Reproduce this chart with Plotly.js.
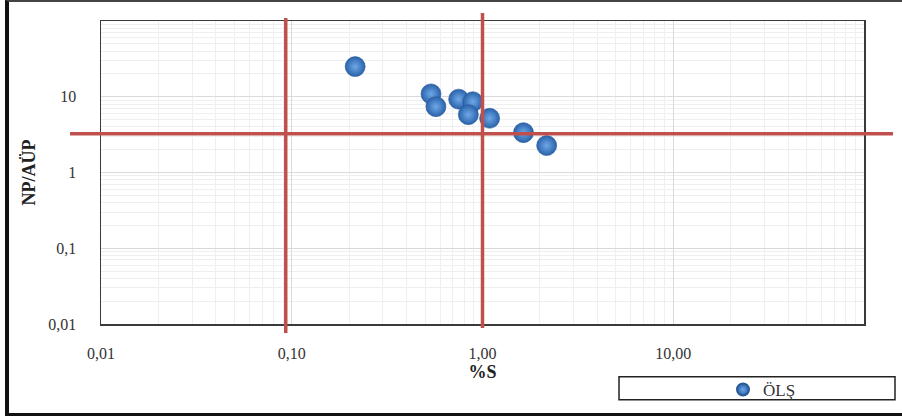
<!DOCTYPE html>
<html>
<head>
<meta charset="utf-8">
<script src="https://cdn.plot.ly/plotly-3.0.1.min.js"></script>
<style>
  html, body { margin: 0; padding: 0; background: #fff; }
  #wrap { position: relative; width: 902px; height: 419px; }
  #chart { width: 902px; height: 419px; }
  #frame { position: absolute; left: 5px; top: 0; width: 897px; height: 416px; box-sizing: border-box;
           border-left: 4px solid #111; border-top: 2px solid #444; border-bottom: 3px solid #111; pointer-events: none; }
</style>
</head>
<body>
<div id="wrap">
  <div id="chart"></div>
  <div id="frame"></div>
</div>
<script>
// Data
const seriesName = "ÖLŞ";
const percentS = [0.215, 0.537, 0.570, 0.750, 0.889, 0.843, 1.09, 1.64, 2.17];
const npAup    = [25.0, 10.9, 7.4, 9.3, 8.6, 5.8, 5.2, 3.36, 2.27];

const xTickVals = [0.01, 0.1, 1, 10];
const xTickText = ["0,01", "0,10", "1,00", "10,00"];
const yTickVals = [0.01, 0.1, 1, 10];
const yTickText = ["0,01", "0,1", "1", "10"];

const refX = [0.093, 1.0];  // vertical reference lines (%S)
const refY = [3.25];        // horizontal reference line (NP/AÜP)

// minor gridline positions (2..9 within each decade)
const minorVals = [];
[0.01, 0.1, 1, 10].forEach(d => { for (let k = 2; k <= 9; k++) minorVals.push(d * k); });

const serif = "'Liberation Serif', 'Times New Roman', serif";
const red = "#c0504d";

const trace = {
  type: "scatter",
  mode: "markers",
  name: seriesName,
  x: percentS,
  y: npAup,
  marker: {
    size: 20,
    color: "#2a62aa",
    gradient: { type: "radial", color: "#6fa8e8" },
    line: { color: "#2a5a96", width: 0.6 }
  },
  cliponaxis: false
};

const shapes = [];
// legend frame
shapes.push({ type: "rect", xref: "paper", yref: "paper",
  x0: (619 - 101) / 763, x1: (895 - 101) / 763,
  y0: (325 - 378) / 304, y1: (325 - 401) / 304,
  line: { color: "#222", width: 1.5 }, fillcolor: "rgba(0,0,0,0)" });
// vertical reference lines
const vExt = [[-0.030, 1.010], [-0.013, 1.026]];
refX.forEach((v, i) => shapes.push({
  type: "line", xref: "x", yref: "paper", x0: v, x1: v,
  y0: vExt[i][0], y1: vExt[i][1], line: { color: red, width: 3.5 }, layer: "above"
}));
refY.forEach(v => shapes.push({
  type: "line", xref: "paper", yref: "y", x0: -0.0406, x1: 1.038, y0: v, y1: v,
  line: { color: red, width: 3.5 }, layer: "above"
}));

const layout = {
  width: 902, height: 419,
  margin: { l: 101, r: 38, t: 21, b: 94 },
  paper_bgcolor: "#ffffff",
  plot_bgcolor: "#ffffff",
  font: { family: serif, color: "#333" },
  showlegend: true,
  legend: {
    x: (762 - 101) / 763, y: (325 - 390) / 304, xanchor: "center", yanchor: "middle",
    orientation: "h", font: { family: serif, size: 17, color: "#333" },
    bgcolor: "rgba(0,0,0,0)", borderwidth: 0, itemsizing: "constant", itemwidth: 30
  },
  xaxis: {
    type: "log", range: [-2, 2], autorange: false,
    tickmode: "array", tickvals: xTickVals, ticktext: xTickText,
    ticks: "outside", ticklen: 14, tickcolor: "rgba(0,0,0,0)",
    tickfont: { family: serif, size: 16, color: "#333" },
    showgrid: true, gridcolor: "#dadada", gridwidth: 1,
    minor: { tickmode: "array", tickvals: minorVals, showgrid: true, gridcolor: "#efefef", gridwidth: 1, ticks: "" },
    showline: true, linecolor: "#3a3a3a", linewidth: 1.5, mirror: true,
    zeroline: false, automargin: false,
    title: { text: "%S", font: { family: serif, size: 18, color: "#222", weight: "bold" }, standoff: 0 }
  },
  yaxis: {
    type: "log", range: [-2, 2], autorange: false,
    tickmode: "array", tickvals: yTickVals, ticktext: yTickText,
    ticks: "outside", ticklen: 20, tickcolor: "rgba(0,0,0,0)",
    tickfont: { family: serif, size: 16, color: "#333" },
    showgrid: true, gridcolor: "#dadada", gridwidth: 1,
    minor: { tickmode: "array", tickvals: minorVals, showgrid: true, gridcolor: "#efefef", gridwidth: 1, ticks: "" },
    showline: true, linecolor: "#3a3a3a", linewidth: 1.5, mirror: true,
    zeroline: false, automargin: false,
    title: { text: "NP/AÜP", font: { family: serif, size: 18, color: "#222", weight: "bold" }, standoff: 8 }
  },
  shapes: shapes
};

Plotly.newPlot("chart", [trace], layout, { displayModeBar: false, staticPlot: true });
</script>
</body>
</html>
